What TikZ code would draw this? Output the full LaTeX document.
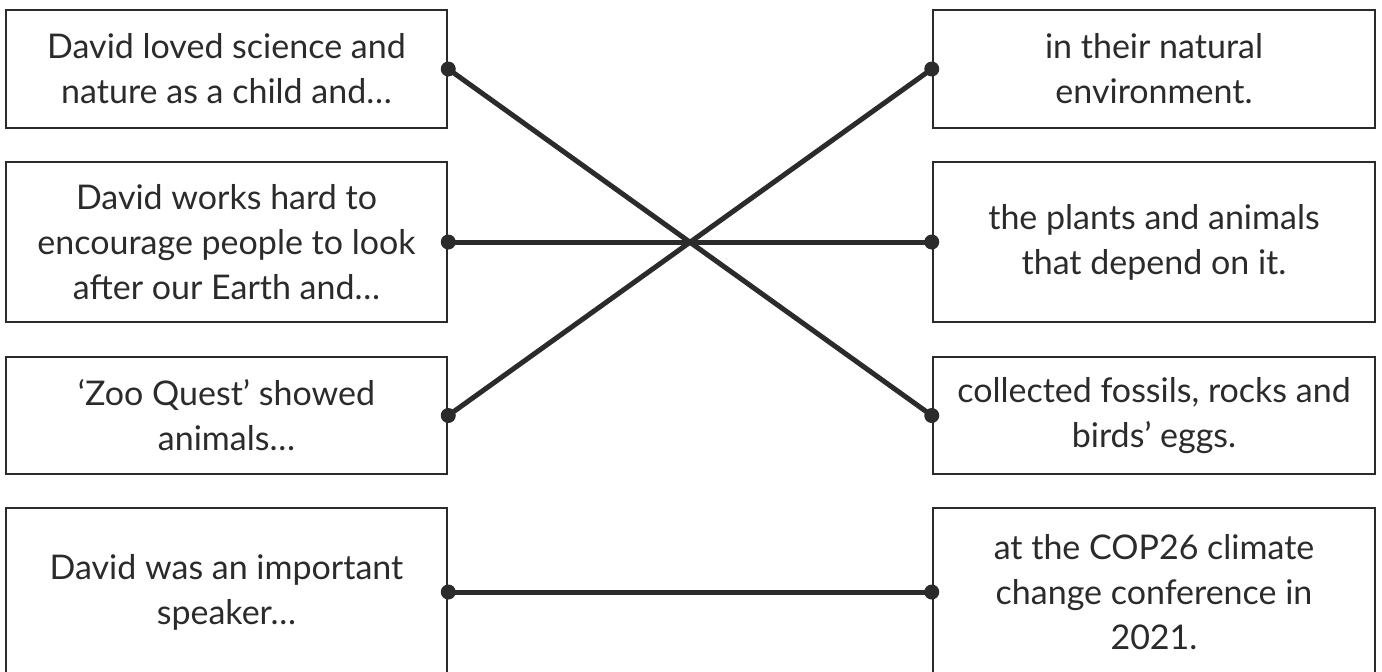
\documentclass[tikz,border=0pt]{standalone}
\usepackage{fontspec}
\setmainfont{Lato}
\definecolor{ink}{HTML}{2B2B2B}
\begin{document}
\begin{tikzpicture}[x=1pt,y=-1pt,
  box/.style={draw=ink, line width=2.5pt, rectangle, inner sep=0pt, align=center,
    text=ink, font=\fontsize{34}{45}\selectfont},
  link/.style={draw=ink, line width=5pt},
  dot/.style={circle, fill=ink, inner sep=0pt, minimum size=15pt}]
\useasboundingbox (0,0) rectangle (1382,672);
\begin{scope}
\clip (0,0) rectangle (1382,672);
\node[box, minimum width=441pt, minimum height=118pt] (l1) at (226.5,69) {David loved science and\\nature as a child and\ldots};
\node[box, minimum width=441pt, minimum height=160pt] (l2) at (226.5,242) {David works hard to\\encourage people to look\\after our Earth and\ldots};
\node[box, minimum width=441pt, minimum height=117pt] (l3) at (226.5,415.5) {‘Zoo Quest’ showed\\animals\ldots};
\node[box, minimum width=441pt, minimum height=168pt] (l4) at (226.5,592) {David was an important\\speaker\ldots};
\node[box, minimum width=442pt, minimum height=118pt] (r1) at (1154,69) {in their natural\\environment.};
\node[box, minimum width=442pt, minimum height=160pt] (r2) at (1154,242) {the plants and animals\\that depend on it.};
\node[box, minimum width=442pt, minimum height=117pt] (r3) at (1154,415.5) {collected fossils, rocks and\\birds’ eggs.};
\node[box, minimum width=442pt, minimum height=168pt] (r4) at (1154,592) {at the COP26 climate\\change conference in\\2021.};
\draw[link] (l1.east) -- (r3.west);
\draw[link] (l2.east) -- (r2.west);
\draw[link] (l3.east) -- (r1.west);
\draw[link] (l4.east) -- (r4.west);
\foreach \n in {l1,l2,l3,l4} \node[dot] at (\n.east) {};
\foreach \n in {r1,r2,r3,r4} \node[dot] at (\n.west) {};
\end{scope}
\end{tikzpicture}
\end{document}
